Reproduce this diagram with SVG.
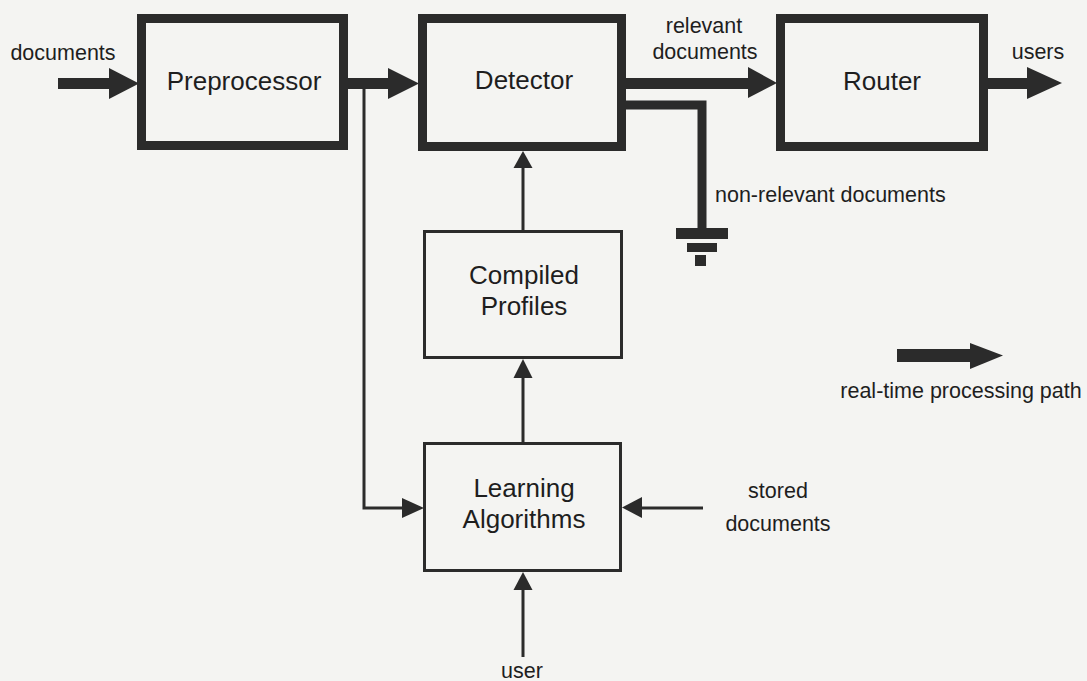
<svg xmlns="http://www.w3.org/2000/svg" width="1087" height="681" viewBox="0 0 1087 681">
<style>
.bg{fill:#f4f4f2}
.thick{fill:none;stroke:#2b2b2b;stroke-width:9}
.thin{fill:none;stroke:#2b2b2b;stroke-width:3}
.ink{fill:#2b2b2b}
.node{font-family:"Liberation Sans",Arial,sans-serif;font-size:26px;fill:#1e1e1e;text-anchor:middle}
.lbl{font-family:"Liberation Sans",Arial,sans-serif;font-size:21.5px;fill:#1e1e1e;text-anchor:middle}
</style>
<rect class="bg" x="0" y="0" width="1087" height="681"/>
<g id="connectors">
  <!-- documents input -->
  <rect class="ink" x="58" y="78" width="56" height="11"/>
  <polygon class="ink" points="109,68 139,83.5 109,99"/>
  <!-- preprocessor to detector -->
  <rect class="ink" x="347" y="78" width="45" height="11"/>
  <polygon class="ink" points="388,68 419,83.5 388,99"/>
  <!-- relevant documents to router -->
  <rect class="ink" x="625" y="78" width="128" height="11"/>
  <polygon class="ink" points="748,67 777,83 748,98"/>
  <!-- router to users -->
  <rect class="ink" x="987" y="78" width="44" height="11"/>
  <polygon class="ink" points="1027,67 1062,83 1027,99"/>
  <!-- non-relevant to ground -->
  <path class="thick" d="M625,105 H702 V229"/>
  <rect class="ink" x="676" y="228" width="52" height="11"/>
  <rect class="ink" x="687" y="243" width="30" height="9"/>
  <rect class="ink" x="695" y="255" width="11" height="11"/>
  <!-- branch to learning algorithms -->
  <path class="thin" d="M364,88 V508 H405"/>
  <polygon class="ink" points="402,498 424,508 402,518"/>
  <!-- compiled profiles to detector -->
  <line class="thin" x1="523" y1="231" x2="523" y2="165"/>
  <polygon class="ink" points="513.5,168 523,151 532.5,168"/>
  <!-- learning to compiled -->
  <line class="thin" x1="523" y1="443" x2="523" y2="375"/>
  <polygon class="ink" points="513.5,378 523,359 532.5,378"/>
  <!-- user to learning -->
  <line class="thin" x1="523" y1="657" x2="523" y2="587"/>
  <polygon class="ink" points="513.5,590 523,572 532.5,590"/>
  <!-- stored documents to learning -->
  <line class="thin" x1="703" y1="508" x2="638" y2="508"/>
  <polygon class="ink" points="642,497 622,507.5 642,518"/>
</g>
<g id="preprocessor">
  <rect class="thick" x="141.5" y="18.5" width="202" height="127"/>
  <text class="node" x="244" y="90">Preprocessor</text>
</g>
<g id="detector">
  <rect class="thick" x="422.5" y="18.5" width="199" height="128"/>
  <text class="node" x="524" y="89">Detector</text>
</g>
<g id="router">
  <rect class="thick" x="780.5" y="18.5" width="203" height="128"/>
  <text class="node" x="882" y="90">Router</text>
</g>
<g id="compiled-profiles">
  <rect class="thin" x="424.5" y="231.5" width="197" height="126"/>
  <text class="node" x="524" y="284">Compiled</text>
  <text class="node" x="524" y="315">Profiles</text>
</g>
<g id="learning-algorithms">
  <rect class="thin" x="424.5" y="443.5" width="196" height="127"/>
  <text class="node" x="524" y="497">Learning</text>
  <text class="node" x="524" y="528">Algorithms</text>
</g>
<g id="labels">
  <text class="lbl" x="63" y="60">documents</text>
  <text class="lbl" x="704" y="33">relevant</text>
  <text class="lbl" x="705" y="59">documents</text>
  <text class="lbl" x="1038" y="59">users</text>
  <text class="lbl" x="715" y="202" style="text-anchor:start">non-relevant documents</text>
  <text class="lbl" x="778" y="498">stored</text>
  <text class="lbl" x="778" y="531">documents</text>
  <text class="lbl" x="522" y="678">user</text>
</g>
<g id="legend">
  <rect class="ink" x="897" y="349" width="76" height="13"/>
  <polygon class="ink" points="970,343 1003,355.5 970,369"/>
  <text class="lbl" x="961" y="398">real-time processing path</text>
</g>
</svg>
